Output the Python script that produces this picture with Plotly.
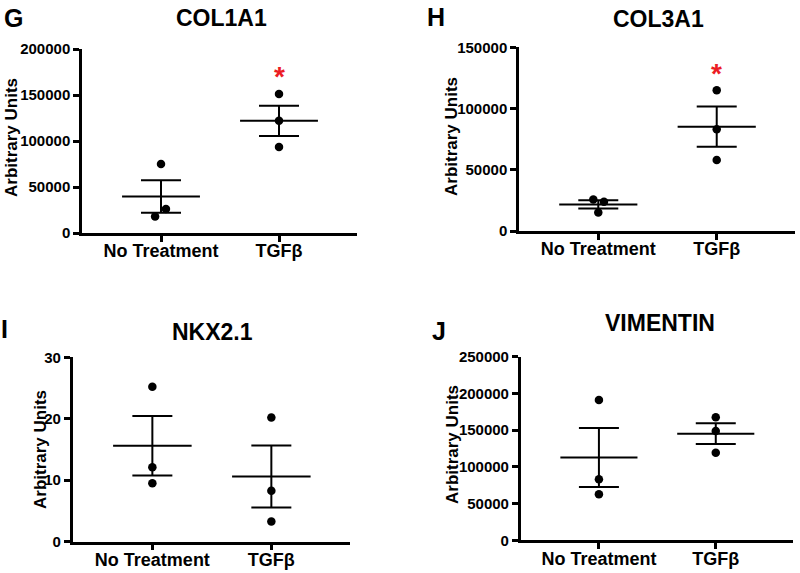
import plotly.graph_objects as go

# ---------------- data ----------------
categories = ["No Treatment", "TGFβ"]

col1a1_nt = [75000, 26000, 18000]
col1a1_tgf = [151000, 122000, 93500]
col1a1_mean = [39700, 121900]
col1a1_sem = [17600, 16500]

col3a1_nt = [25800, 23900, 15200]
col3a1_tgf = [115000, 83000, 58000]
col3a1_mean = [21700, 85200]
col3a1_sem = [3400, 16400]

nkx21_nt = [25.2, 12.1, 9.5]
nkx21_tgf = [20.2, 8.3, 3.3]
nkx21_mean = [15.6, 10.6]
nkx21_sem = [4.85, 5.05]

vim_nt = [191000, 83000, 62600]
vim_tgf = [167400, 148800, 119300]
vim_mean = [112700, 145200]
vim_sem = [40100, 14100]

# point jitter (category units)
col1a1_nt_jit = [0.0, 0.042, -0.05]
col3a1_nt_jit = [-0.042, 0.048, 0.0]

# significance marks (value at which asterisk is drawn above TGFβ)
col1a1_star = 175000
col3a1_star = 132800

# axis settings
col1a1_ticks = [0, 50000, 100000, 150000, 200000]
col3a1_ticks = [0, 50000, 100000, 150000]
nkx21_ticks = [0, 10, 20, 30]
vim_ticks = [0, 50000, 100000, 150000, 200000, 250000]

FONT = "Liberation Sans, Arial, sans-serif"
W, H = 800, 573
RED = "#ec1c24"

panels = [
    dict(name="COL1A1", letter="G", nt=col1a1_nt, tgf=col1a1_tgf, mean=col1a1_mean, sem=col1a1_sem,
         jit=col1a1_nt_jit, star=col1a1_star, ticks=col1a1_ticks,
         xdom=(82, 357), ydom=(233, 49), title=(221, 18), let=(13, 18), ytitle=(11, 138)),
    dict(name="COL3A1", letter="H", nt=col3a1_nt, tgf=col3a1_tgf, mean=col3a1_mean, sem=col3a1_sem,
         jit=col3a1_nt_jit, star=col3a1_star, ticks=col3a1_ticks,
         xdom=(519, 795), ydom=(231, 47.3), title=(658, 19), let=(436, 17), ytitle=(452, 136)),
    dict(name="NKX2.1", letter="I", nt=nkx21_nt, tgf=nkx21_tgf, mean=nkx21_mean, sem=nkx21_sem,
         jit=None, star=None, ticks=nkx21_ticks,
         xdom=(72.7, 350), ydom=(541.7, 357.3), title=(212, 332), let=(4, 329), ytitle=(40, 450)),
    dict(name="VIMENTIN", letter="J", nt=vim_nt, tgf=vim_tgf, mean=vim_mean, sem=vim_sem,
         jit=None, star=None, ticks=vim_ticks,
         xdom=(520.7, 793), ydom=(540.3, 356.7), title=(660, 323), let=(439, 331), ytitle=(452, 444)),
]

fig = go.Figure()
layout = dict(width=W, height=H, margin=dict(l=0, r=0, t=0, b=0, pad=0, autoexpand=False),
              paper_bgcolor="white", plot_bgcolor="white", showlegend=False,
              font=dict(family=FONT, color="black"))
annotations = []

for i, p in enumerate(panels):
    n = "" if i == 0 else str(i + 1)
    xa, ya = "x" + n, "y" + n
    jit = p["jit"] if p["jit"] else [0.0] * len(p["nt"])
    # points
    fig.add_trace(go.Scatter(x=[0 + j for j in jit], y=p["nt"], mode="markers", xaxis=xa, yaxis=ya,
                             marker=dict(size=8.5, color="black"), cliponaxis=False))
    fig.add_trace(go.Scatter(x=[1] * len(p["tgf"]), y=p["tgf"], mode="markers", xaxis=xa, yaxis=ya,
                             marker=dict(size=8.5, color="black"), cliponaxis=False))
    # mean lines
    for c in range(2):
        fig.add_trace(go.Scatter(x=[c - 0.33, c + 0.33], y=[p["mean"][c]] * 2, mode="lines",
                                 xaxis=xa, yaxis=ya, line=dict(color="black", width=2),
                                 cliponaxis=False, hoverinfo="skip"))
    # SEM error bars
    fig.add_trace(go.Scatter(x=[0, 1], y=p["mean"], mode="markers", xaxis=xa, yaxis=ya,
                             marker=dict(size=2, color="rgba(0,0,0,0)"),
                             error_y=dict(type="data", array=p["sem"], symmetric=True,
                                          width=20, thickness=2, color="black"),
                             cliponaxis=False))
    ymax = p["ticks"][-1]
    x0, x1 = p["xdom"]
    ybot, ytop = p["ydom"]
    layout["xaxis" + n] = dict(domain=[x0 / W, x1 / W], range=[-(161 - 82) / 118, 1 + (357 - 279) / 118],
                               anchor=ya, showline=True, linewidth=2.5, linecolor="black", automargin=False,
                               ticks="outside", ticklen=6, tickwidth=2.5, tickcolor="black",
                               ticklabelstandoff=-6,
                               tickvals=[0, 1], ticktext=categories, showgrid=False, zeroline=False,
                               tickfont=dict(family=FONT, size=18, color="black", weight="bold"))
    layout["yaxis" + n] = dict(domain=[1 - ybot / H, 1 - ytop / H], range=[0, ymax],
                               anchor=xa, showline=True, linewidth=2.5, linecolor="black", automargin=False,
                               ticks="outside", ticklen=6, tickwidth=2.5, tickcolor="black",
                               tickvals=p["ticks"], ticktext=[str(t) for t in p["ticks"]],
                               showgrid=False, zeroline=False,
                               tickfont=dict(family=FONT, size=15, color="black", weight="bold"))
    # titles
    annotations.append(dict(text=p["name"], xref="paper", yref="paper",
                            x=p["title"][0] / W, y=1 - p["title"][1] / H, xanchor="center", yanchor="middle",
                            showarrow=False, font=dict(family=FONT, size=23, color="black", weight="bold")))
    annotations.append(dict(text=p["letter"], xref="paper", yref="paper",
                            x=p["let"][0] / W, y=1 - p["let"][1] / H, xanchor="center", yanchor="middle",
                            showarrow=False, font=dict(family=FONT, size=25, color="black", weight="bold")))
    annotations.append(dict(text="Arbitrary Units", xref="paper", yref="paper", textangle=-90,
                            x=p["ytitle"][0] / W, y=1 - p["ytitle"][1] / H, xanchor="center", yanchor="middle",
                            showarrow=False, font=dict(family=FONT, size=17, color="black", weight="bold")))
    if p["star"] is not None:
        annotations.append(dict(text="*", xref=xa, yref=ya, x=1, y=p["star"], xanchor="center",
                                yanchor="middle", showarrow=False, yshift=-5,
                                font=dict(family=FONT, size=28, color=RED, weight="bold")))

layout["annotations"] = annotations
fig.update_layout(**layout)
fig.write_html("out.html", config={"displayModeBar": False},
               post_script="document.body.style.margin='0';document.body.style.padding='0';")
